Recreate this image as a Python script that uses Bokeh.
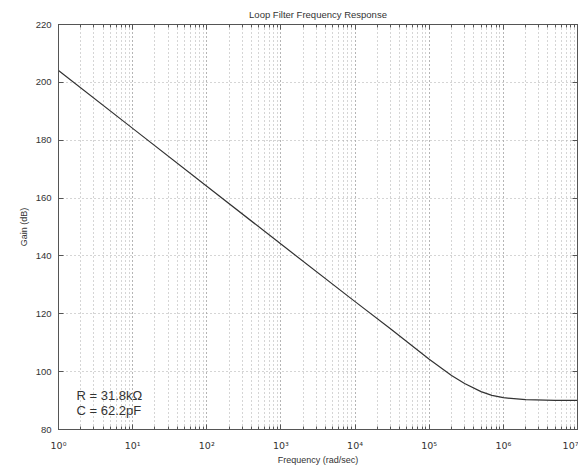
from bokeh.plotting import figure
from bokeh.models import LogAxis, LinearAxis, Label, FixedTicker, LogTicker
from bokeh.embed import file_html
from bokeh.resources import INLINE

# Values
freq = [1, 10, 100, 1e3, 1e4, 3e4, 1e5, 2e5, 3e5, 5e5, 7e5, 1e6, 2e6, 5e6, 1e7]
gain = [204.1, 184.1, 164.1, 144.1, 124.2, 114.8, 104.3, 98.7, 95.9, 93.1, 91.8, 91.0, 90.3, 90.1, 90.1]

x_ticks = [1, 10, 100, 1e3, 1e4, 1e5, 1e6, 1e7]
x_tick_labels = ["10⁰", "10¹", "10²", "10³", "10⁴", "10⁵", "10⁶", "10⁷"]
y_ticks = [80, 100, 120, 140, 160, 180, 200, 220]

FONT = "Liberation Sans"
AX = "#555555"
TXT = "#333333"

p = figure(width=578, height=467, x_axis_type="log",
           x_range=(1, 1e7), y_range=(80, 220),
           output_backend="svg", toolbar_location=None,
           title="Loop Filter Frequency Response",
           min_border_left=58, min_border_right=1, min_border_bottom=34, min_border_top=24)

p.title.align = "center"
p.title.text_font = FONT
p.title.text_font_size = "9.5px"
p.title.text_font_style = "normal"
p.title.text_color = TXT

p.outline_line_color = AX
p.outline_line_width = 1

label_overrides = {}
for v, t in zip(x_ticks, x_tick_labels):
    label_overrides[float(v)] = t

xa = p.xaxis[0]
xa.ticker = LogTicker(num_minor_ticks=10, desired_num_ticks=8)
xa.major_label_overrides = label_overrides
xa.axis_label = "Frequency (rad/sec)"
ya = p.yaxis[0]
ya.ticker = FixedTicker(ticks=y_ticks)
ya.axis_label = "Gain (dB)"

for ax in (xa, ya):
    ax.axis_line_color = AX
    ax.major_tick_in = 5
    ax.major_tick_out = 0
    ax.minor_tick_in = 3
    ax.minor_tick_out = 0
    ax.major_tick_line_color = AX
    ax.minor_tick_line_color = AX
    ax.major_label_text_font = FONT
    ax.major_label_text_font_size = "9.5px"
    ax.major_label_text_color = TXT
    ax.axis_label_text_font = FONT
    ax.axis_label_text_font_size = "9px"
    ax.axis_label_text_font_style = "normal"
    ax.axis_label_text_color = TXT
xa.major_label_text_font = "DejaVu Sans"
xa.major_label_text_font_size = "9.5px"
ya.major_label_standoff = 7
ya.axis_label_standoff = 4
xa.major_label_standoff = 10
xa.axis_label_standoff = 1

top = LogAxis(ticker=LogTicker(num_minor_ticks=10, desired_num_ticks=8),
              major_label_text_font_size="1px", major_label_text_color=None,
              major_tick_in=5, major_tick_out=0, minor_tick_in=3, minor_tick_out=0,
              major_label_standoff=0,
              axis_line_color=AX, major_tick_line_color=AX, minor_tick_line_color=AX)
right = LinearAxis(ticker=FixedTicker(ticks=y_ticks),
                   major_label_text_font_size="1px", major_label_text_color=None,
                   major_tick_in=5, major_tick_out=0, minor_tick_in=0, minor_tick_out=0,
                   major_label_standoff=0,
                   axis_line_color=AX, major_tick_line_color=AX)
p.add_layout(top, "above")
p.add_layout(right, "right")

GRID = "#aaaaaa"
p.xgrid.grid_line_color = GRID
p.xgrid.grid_line_dash = "1 3"
p.xgrid.minor_grid_line_color = GRID
p.xgrid.minor_grid_line_dash = "1 3"
p.ygrid.grid_line_color = GRID
p.ygrid.grid_line_dash = "1 3"
p.ygrid.ticker = FixedTicker(ticks=y_ticks)

p.line(freq, gain, line_color="#333333", line_width=1.2)

p.add_layout(Label(x=1.75, y=91.7, text="R = 31.8kΩ", text_font=FONT, text_font_size="13px",
                   text_color=TXT, text_baseline="middle"))
p.add_layout(Label(x=1.75, y=86.5, text="C = 62.2pF", text_font=FONT, text_font_size="13px",
                   text_color=TXT, text_baseline="middle"))

open("out.html", "w").write(file_html(p, INLINE))
